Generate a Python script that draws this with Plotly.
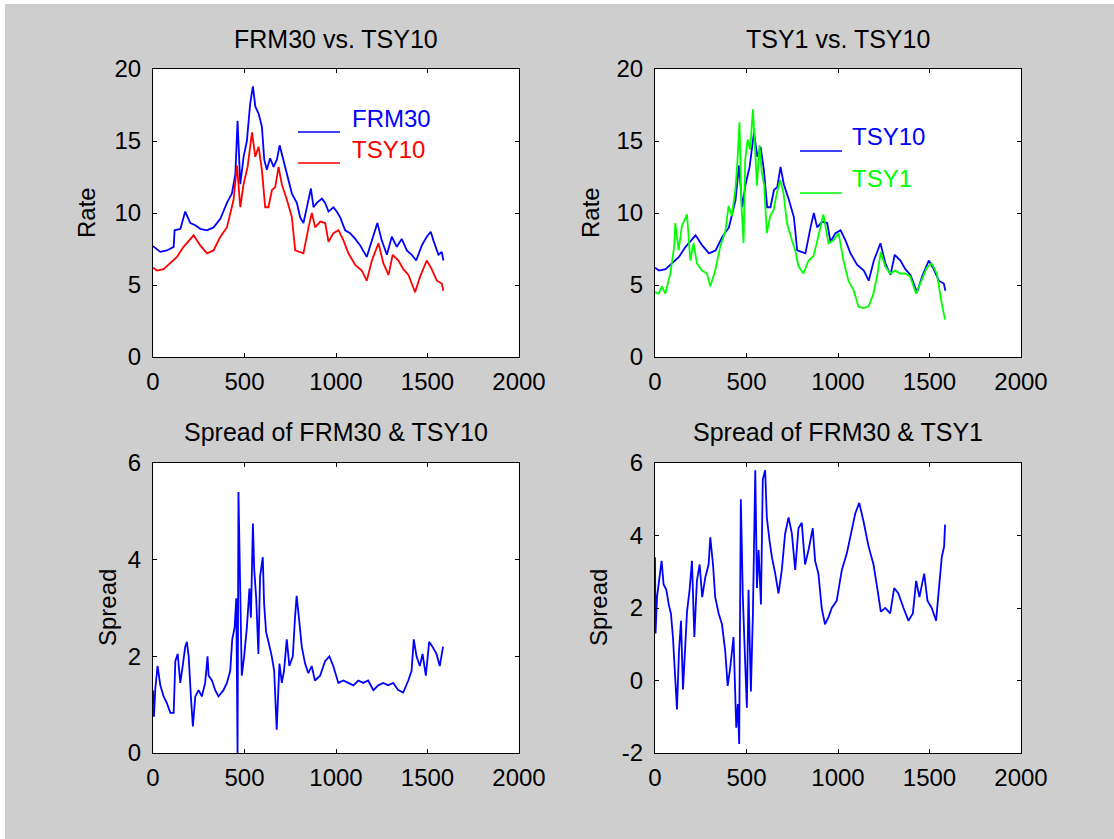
import plotly.graph_objects as go

W, H = 1114, 839

# ---------------- data ----------------
frm30_x = [0, 40, 76, 113, 118, 150, 176, 204, 231, 258, 295, 331, 368, 404, 431,
           450, 462, 470, 477, 495, 513, 531, 546, 559, 577, 595, 608, 622, 640, 659,
           677, 692, 713, 732, 759, 786, 804, 822, 841, 863, 877, 895, 923, 941, 959,
           986, 1004, 1023, 1050, 1077, 1105, 1132, 1168, 1196, 1226, 1250, 1278, 1305,
           1332, 1359, 1387, 1414, 1438, 1469, 1496, 1518, 1532, 1560, 1578, 1587]
frm30_y = [7.7, 7.3, 7.4, 7.65, 8.8, 8.9, 10.1, 9.3, 9.15, 8.9, 8.8, 9.0, 9.6, 10.7, 11.35,
           12.7, 16.4, 14.0, 12.0, 13.9, 15.0, 17.6, 18.8, 17.4, 16.9, 16.0, 13.7, 13.0, 13.8, 13.2,
           13.7, 14.7, 13.7, 12.7, 11.35, 10.7, 9.7, 9.3, 10.4, 11.7, 10.4, 10.7, 11.0, 10.7, 10.1,
           10.4, 10.1, 9.7, 8.8, 8.6, 8.2, 7.75, 6.95, 8.1, 9.3, 8.1, 7.1, 8.35,
           7.65, 8.2, 7.4, 7.1, 6.7, 7.75, 8.35, 8.7, 8.1, 7.1, 7.3, 6.7]

tsy10_x = [0, 22, 58, 95, 131, 167, 222, 258, 295, 331, 368, 404, 440, 459, 477,
           495, 517, 541, 559, 577, 595, 613, 631, 650, 668, 686, 704, 732, 759, 777,
           804, 822, 850, 868, 886, 914, 941, 959, 986, 1014, 1041, 1068, 1105, 1141, 1168,
           1196, 1232, 1259, 1287, 1310, 1341, 1368, 1396, 1432, 1460, 1496, 1523, 1551, 1578, 1587]
tsy10_y = [6.2, 6.0, 6.1, 6.5, 6.95, 7.65, 8.45, 7.75, 7.2, 7.4, 8.35, 9.0, 10.9, 13.3, 10.4,
           12.0, 13.2, 15.6, 13.9, 14.6, 13.0, 10.4, 10.4, 11.6, 11.8, 13.2, 12.0, 10.9, 9.7, 7.4,
           7.3, 7.2, 9.0, 10.0, 9.0, 9.4, 9.3, 8.0, 8.6, 8.8, 8.1, 7.2, 6.4, 6.0, 5.3,
           6.7, 7.9, 6.5, 5.7, 7.1, 6.7, 6.1, 5.7, 4.5, 5.6, 6.7, 6.1, 5.3, 5.1, 4.6]

tsy1_x = [0, 20, 38, 56, 84, 105, 111, 129, 147, 175, 193, 211, 229, 257, 284,
          302, 329, 357, 384, 402, 420, 439, 451, 462, 471, 484, 493, 506, 520, 535,
          548, 557, 571, 584, 597, 611, 630, 648, 666, 684, 702, 721, 748, 766, 784,
          811, 839, 866, 893, 920, 948, 975, 1003, 1030, 1057, 1085, 1112, 1139, 1167, 1194,
          1216, 1234, 1258, 1285, 1312, 1339, 1367, 1394, 1427, 1458, 1485, 1512, 1540, 1567, 1585]
tsy1_y = [4.5, 4.4, 4.9, 4.4, 5.8, 7.7, 9.3, 7.4, 9.1, 9.9, 6.7, 7.9, 6.5, 6.0, 5.8,
          4.9, 6.0, 7.7, 8.7, 10.5, 9.8, 11.6, 13.7, 16.3, 10.9, 7.9, 13.7, 15.1, 14.4, 17.2,
          14.2, 11.9, 14.7, 12.8, 11.9, 8.6, 9.8, 10.2, 11.4, 12.3, 11.4, 9.3, 8.1, 7.4, 6.3,
          5.8, 6.7, 7.0, 8.4, 9.9, 7.9, 8.1, 8.6, 6.7, 5.3, 4.65, 3.5, 3.4, 3.5, 4.4,
          5.8, 7.3, 6.3, 5.8, 6.0, 5.8, 5.8, 5.6, 4.4, 5.3, 6.2, 6.5, 5.8, 3.7, 2.6]

spread10_x = [0, 5, 13, 25, 40, 58, 76, 95, 113, 122, 135, 149, 164, 176, 185,
              195, 207, 218, 231, 249, 267, 285, 298, 304, 322, 340, 358, 385, 404, 422,
              433, 446, 455, 462, 467, 476, 485, 498, 513, 527, 535, 546, 553, 564, 576,
              585, 600, 607, 618, 631, 649, 662, 676, 691, 704, 716, 731, 745, 764, 776,
              785, 800, 813, 831, 849, 867, 885, 913, 940, 964, 985, 1013, 1040, 1067, 1095,
              1122, 1149, 1176, 1204, 1231, 1258, 1285, 1313, 1340, 1367, 1395, 1413, 1425, 1440, 1458,
              1473, 1491, 1509, 1527, 1549, 1567, 1585]
spread10_y = [1.3, 0.75, 1.35, 1.8, 1.4, 1.17, 1.03, 0.83, 0.83, 1.9, 2.05, 1.45, 1.85, 2.2, 2.3,
              2.0, 1.17, 0.55, 1.17, 1.3, 1.17, 1.45, 2.0, 1.6, 1.5, 1.3, 1.17, 1.3, 1.45, 1.7,
              2.35, 2.6, 3.2, 0.0, 5.4, 3.2, 1.6, 2.0, 2.6, 3.4, 2.8, 4.75, 3.8, 3.2, 2.05,
              3.65, 4.05, 3.1, 2.5, 2.3, 2.0, 1.7, 0.48, 1.85, 1.45, 1.7, 2.35, 1.8, 2.0, 2.8,
              3.25, 2.7, 2.2, 1.85, 1.65, 1.8, 1.5, 1.6, 1.9, 2.0, 1.8, 1.45, 1.5, 1.45, 1.4,
              1.5, 1.45, 1.5, 1.3, 1.4, 1.45, 1.4, 1.45, 1.3, 1.25, 1.5, 1.7, 2.35, 2.0, 1.8,
              2.05, 1.6, 2.3, 2.2, 2.05, 1.8, 2.2]

spread1_x = [0, 3, 11, 25, 36, 47, 62, 75, 87, 98, 109, 120, 131, 142, 153,
             164, 175, 189, 202, 215, 229, 244, 258, 275, 293, 302, 317, 329, 348, 366,
             384, 397, 411, 429, 444, 453, 460, 469, 480, 493, 502, 511, 524, 535, 548,
             557, 566, 579, 589, 602, 611, 626, 639, 657, 675, 693, 711, 730, 748, 766,
             784, 802, 820, 839, 862, 875, 893, 911, 929, 948, 966, 993, 1021, 1048, 1075,
             1094, 1116, 1139, 1167, 1194, 1216, 1234, 1258, 1285, 1307, 1330, 1358, 1385, 1409, 1427,
             1445, 1471, 1489, 1512, 1536, 1554, 1567, 1580, 1585]
spread1_y = [3.4, 1.3, 2.3, 2.95, 3.3, 2.65, 2.5, 2.1, 1.85, 1.2, 0.26, -0.8, 0.8, 1.65, -0.25,
             0.8, 1.9, 2.5, 3.3, 1.2, 2.75, 3.2, 2.3, 2.85, 3.2, 3.95, 3.2, 2.3, 1.85, 1.55,
             0.8, -0.15, 0.35, 1.2, -1.3, -0.65, -1.75, 5.0, 2.3, 0.45, -0.75, 2.5, -0.3, 1.85, 5.8,
             2.55, 3.6, 2.1, 5.55, 5.8, 4.5, 3.85, 3.4, 2.95, 2.4, 3.05, 4.05, 4.5, 4.05, 3.05,
             4.2, 4.35, 3.2, 3.6, 4.2, 3.3, 2.95, 2.0, 1.55, 1.75, 2.0, 2.2, 3.05, 3.5, 4.15,
             4.6, 4.9, 4.4, 3.7, 3.2, 2.5, 1.9, 2.0, 1.85, 2.55, 2.4, 2.0, 1.65, 1.85, 2.75,
             2.3, 2.95, 2.2, 2.0, 1.65, 2.55, 3.4, 3.7, 4.3]

x_ticks = [0, 500, 1000, 1500, 2000]
rate_ticks = [0, 5, 10, 15, 20]
spread10_ticks = [0, 2, 4, 6]
spread1_ticks = [-2, 0, 2, 4, 6]

titles = ["FRM30 vs. TSY10", "TSY1 vs. TSY10",
          "Spread of FRM30 & TSY10", "Spread of FRM30 & TSY1"]

BLUE, RED, GREEN = "#0000ff", "#ff0000", "#00ff00"
FONT = "Liberation Sans, Arial, sans-serif"


def px(p):
    return p / W


def py(p):
    return 1 - p / H


fig = go.Figure()
lw = 1.8
fig.add_trace(go.Scatter(x=frm30_x, y=frm30_y, mode="lines", line=dict(color=BLUE, width=lw), xaxis="x", yaxis="y"))
fig.add_trace(go.Scatter(x=tsy10_x, y=tsy10_y, mode="lines", line=dict(color=RED, width=lw), xaxis="x", yaxis="y"))
fig.add_trace(go.Scatter(x=tsy10_x, y=tsy10_y, mode="lines", line=dict(color=BLUE, width=lw), xaxis="x2", yaxis="y2"))
fig.add_trace(go.Scatter(x=tsy1_x, y=tsy1_y, mode="lines", line=dict(color=GREEN, width=lw), xaxis="x2", yaxis="y2"))
fig.add_trace(go.Scatter(x=spread10_x, y=spread10_y, mode="lines", line=dict(color=BLUE, width=lw), xaxis="x3", yaxis="y3"))
fig.add_trace(go.Scatter(x=spread1_x, y=spread1_y, mode="lines", line=dict(color=BLUE, width=lw), xaxis="x4", yaxis="y4"))

common = dict(showline=True, linecolor="black", linewidth=1, mirror="allticks",
              ticks="inside", ticklen=4, tickcolor="black", showgrid=False, zeroline=False,
              tickfont=dict(family=FONT, size=24, color="black"))

boxes = {  # pixel boxes of the four axes: left, right, top, bottom
    1: (153, 519, 69, 357),
    2: (655, 1021, 69, 357),
    3: (153, 519, 463, 753),
    4: (655, 1021, 463, 753),
}
yranges = {1: ([0, 20], rate_ticks), 2: ([0, 20], rate_ticks),
           3: ([0, 6], spread10_ticks), 4: ([-2, 6], spread1_ticks)}

lay = {}
for i, (l, r, t, b) in boxes.items():
    sx = "" if i == 1 else str(i)
    lay["xaxis" + sx] = dict(common, domain=[px(l), px(r)], range=[0, 2000], tickvals=x_ticks,
                             ticktext=[str(v) for v in x_ticks],
                             anchor="y" + sx, ticklabelstandoff=3)
    rng, tv = yranges[i]
    lay["yaxis" + sx] = dict(common, domain=[py(b), py(t)], range=rng, tickvals=tv,
                             ticktext=[str(v) for v in tv],
                             anchor="x" + sx, ticklabelstandoff=6)

annotations = []
title_y = {1: 39, 2: 39, 3: 432, 4: 432}
for i, (l, r, t, b) in boxes.items():
    annotations.append(dict(text=titles[i - 1], x=px((l + r) / 2), y=py(title_y[i]), xref="paper", yref="paper",
                            showarrow=False, xanchor="center", yanchor="middle",
                            font=dict(family=FONT, size=25, color="black")))

ylabels = [("Rate", 86, 213), ("Rate", 590, 213), ("Spread", 107, 608), ("Spread", 598, 608)]
for txt, xx, yy in ylabels:
    annotations.append(dict(text=txt, x=px(xx), y=py(yy), xref="paper", yref="paper", textangle=-90,
                            showarrow=False, xanchor="center", yanchor="middle",
                            font=dict(family=FONT, size=24, color="black")))

# legends (line sample + label)
legend_items = [("FRM30", BLUE, 298, 340, 132, 350, 118),
                ("TSY10", RED, 298, 340, 163, 350, 150),
                ("TSY10", BLUE, 800, 842, 151, 850, 136),
                ("TSY1", GREEN, 800, 842, 193, 850, 178)]
shapes = [
    dict(type="rect", xref="paper", yref="paper", x0=0, x1=px(5), y0=0, y1=1,
         fillcolor="white", line=dict(width=0), layer="below"),
    dict(type="rect", xref="paper", yref="paper", x0=0, x1=1, y0=py(4), y1=1,
         fillcolor="white", line=dict(width=0), layer="below"),
]
for txt, col, x0, x1, ly, tx, ty in legend_items:
    shapes.append(dict(type="line", xref="paper", yref="paper", x0=px(x0), x1=px(x1), y0=py(ly), y1=py(ly),
                       line=dict(color=col, width=1.6)))
    annotations.append(dict(text=txt, x=px(tx), y=py(ty), xref="paper", yref="paper", showarrow=False,
                            xanchor="left", yanchor="middle", font=dict(family=FONT, size=24, color=col)))

fig.update_layout(width=W, height=H,
                  margin=dict(l=0, r=0, t=0, b=0, pad=0, autoexpand=False),
                  paper_bgcolor="#cecece", plot_bgcolor="white", showlegend=False,
                  annotations=annotations, shapes=shapes, **lay)

fig.write_html("out.html")
